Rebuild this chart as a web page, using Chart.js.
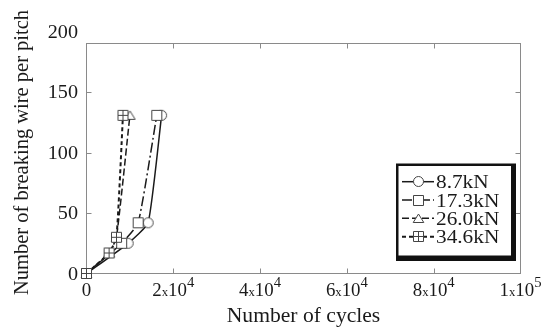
<!DOCTYPE html>
<html>
<head>
<meta charset="utf-8">
<script src="https://cdn.jsdelivr.net/npm/chart.js@4.4.1/dist/chart.umd.min.js"></script>
<style>
html, body { margin: 0; padding: 0; background: #fff; }
#wrap { width: 544px; height: 327px; }
</style>
</head>
<body>
<div id="wrap"><canvas id="c" width="544" height="327"></canvas></div>
<script>
// values: cycles vs breaking wires per pitch
const loads = ['8.7kN', '17.3kN', '26.0kN', '34.6kN'];
const cycles87 = [0, 9600, 14200, 17300];
const wires87 = [0, 25, 42, 131];
const cycles173 = [0, 8100, 11900, 16200];
const wires173 = [0, 25, 42, 131];
const cycles260 = [0, 5200, 6900, 10000];
const wires260 = [0, 17, 30, 131];
const cycles346 = [0, 5200, 6900, 8400];
const wires346 = [0, 17, 30, 131];

const xTicks = [0, 20000, 40000, 60000, 80000, 100000];
const xTickMant = ['0', '2', '4', '6', '8', '1'];
const xTickExp = ['', '4', '4', '4', '4', '5'];
const yTicks = [0, 50, 100, 150, 200];
const frameTopValue = 191;   // the box stops a bit under 200

const SERIF = '"Liberation Serif", "Times New Roman", serif';
const INK = '#1a1a1a';

function makeMarker(kind) {
    const cv = document.createElement('canvas');
    cv.width = 13;
    cv.height = 13;
    const g = cv.getContext('2d');
    g.fillStyle = '#fff';
    g.strokeStyle = '#444';
    g.lineWidth = 1;
    g.beginPath();
    if (kind === 'circle') {
        g.arc(6.5, 6.5, 5, 0, Math.PI * 2);
    } else if (kind === 'triangle') {
        g.moveTo(6.5, 2);
        g.lineTo(11.8, 10.5);
        g.lineTo(1.2, 10.5);
        g.closePath();
    } else {
        g.rect(1.5, 1.5, 10, 10);
    }
    g.fill();
    g.stroke();
    if (kind === 'cross') {
        g.beginPath();
        g.moveTo(6.5, 1.5); g.lineTo(6.5, 11.5);
        g.moveTo(1.5, 6.5); g.lineTo(11.5, 6.5);
        g.stroke();
    }
    return cv;
}

const markers = [makeMarker('circle'), makeMarker('square'), makeMarker('triangle'), makeMarker('cross')];
const dashes = [[], [10, 3, 2, 3], [7, 3], [4, 3]];
const widths = [1.5, 1.5, 1.5, 2];

function toPoints(xs, ys) {
    return xs.map((x, i) => ({ x: x, y: ys[i] }));
}

const seriesX = [cycles87, cycles173, cycles260, cycles346];
const seriesY = [wires87, wires173, wires260, wires346];

const datasets = loads.map((label, i) => ({
    label: label,
    data: toPoints(seriesX[i], seriesY[i]),
    borderColor: INK,
    borderWidth: widths[i],
    borderDash: dashes[i],
    pointStyle: markers[i],
    pointRadius: 5,
    tension: 0.15,
    clip: false,
    order: 3 - i
}));

// text with a little horizontal stretch, like the scanned figure
function sText(ctx, str, x, y, size, sx, align) {
    ctx.save();
    ctx.font = size + 'px ' + SERIF;
    ctx.fillStyle = INK;
    ctx.textBaseline = 'alphabetic';
    ctx.textAlign = align || 'left';
    ctx.translate(x, y);
    ctx.scale(sx, 1);
    ctx.fillText(str, 0, 0);
    ctx.restore();
}

function textWidth(ctx, str, size, sx) {
    ctx.save();
    ctx.font = size + 'px ' + SERIF;
    const w = ctx.measureText(str).width * sx;
    ctx.restore();
    return w;
}

const framePlugin = {
    id: 'frame',
    beforeDatasetsDraw(chart) {
        const { ctx, chartArea: a, scales: { x, y } } = chart;
        const top = Math.round(y.getPixelForValue(frameTopValue)) + 0.5;
        ctx.save();
        ctx.strokeStyle = '#8a8a8a';
        ctx.lineWidth = 1;
        ctx.strokeRect(a.left, top, a.right - a.left, a.bottom - top);
        ctx.beginPath();
        xTicks.forEach(v => {
            if (v <= 0 || v >= 100000) return;
            const px = Math.round(x.getPixelForValue(v)) + 0.5;
            ctx.moveTo(px, a.bottom); ctx.lineTo(px, a.bottom - 5);
            ctx.moveTo(px, top); ctx.lineTo(px, top + 5);
        });
        yTicks.forEach(v => {
            if (v <= 0 || v >= frameTopValue) return;
            const py = Math.round(y.getPixelForValue(v)) + 0.5;
            ctx.moveTo(a.left, py); ctx.lineTo(a.left + 5, py);
            ctx.moveTo(a.right, py); ctx.lineTo(a.right - 5, py);
        });
        ctx.stroke();
        ctx.restore();
    },
    afterDraw(chart) {
        const { ctx, chartArea: a, scales: { x, y } } = chart;

        // y tick labels
        yTicks.forEach(v => {
            sText(ctx, String(v), 78, y.getPixelForValue(v) + 6, 18, 1.12, 'right');
        });

        // x tick labels, m x 10^e
        xTicks.forEach((v, i) => {
            const cx = x.getPixelForValue(v);
            const m = xTickMant[i];
            const e = xTickExp[i];
            if (!e) {
                sText(ctx, m, cx, 296, 18, 1.05, 'center');
                return;
            }
            const wm = textWidth(ctx, m, 18, 1.05);
            const wx = textWidth(ctx, 'x', 12, 1.05);
            const wt = textWidth(ctx, '10', 18, 1.05);
            const we = textWidth(ctx, e, 14, 1.05);
            let px = cx - (wm + wx + wt + we) / 2;
            sText(ctx, m, px, 296, 18, 1.05); px += wm;
            sText(ctx, 'x', px, 296, 12, 1.05); px += wx;
            sText(ctx, '10', px, 296, 18, 1.05); px += wt;
            sText(ctx, e, px, 286.5, 14, 1.05);
        });

        // axis titles
        sText(ctx, 'Number of cycles', (a.left + a.right) / 2, 322, 20, 1.08, 'center');
        ctx.save();
        ctx.translate(28, 152.5);
        ctx.rotate(-Math.PI / 2);
        sText(ctx, 'Number of breaking wire per pitch', 0, 0, 20.5, 1, 'center');
        ctx.restore();

        // legend box with drop shadow
        ctx.save();
        ctx.fillStyle = '#111';
        ctx.fillRect(396, 163.5, 120, 97.5);
        ctx.fillStyle = '#fff';
        ctx.fillRect(398.5, 166, 112.5, 89.5);
        const rows = [181.7, 200, 218.3, 236.7];
        loads.forEach((label, i) => {
            const ry = rows[i];
            ctx.strokeStyle = INK;
            ctx.lineWidth = widths[i];
            ctx.setLineDash(dashes[i]);
            ctx.beginPath();
            ctx.moveTo(402, ry);
            ctx.lineTo(434, ry);
            ctx.stroke();
            ctx.setLineDash([]);
            const mk = markers[i];
            ctx.drawImage(mk, Math.round(418 - mk.width / 2), Math.round(ry - mk.height / 2));
            sText(ctx, label, 436, ry + 6.5, 19, 1.12, 'left');
        });
        ctx.restore();
    }
};

new Chart(document.getElementById('c'), {
    type: 'line',
    data: { datasets: datasets },
    options: {
        responsive: false,
        animation: false,
        devicePixelRatio: 1,
        layout: { padding: { left: 86.5, right: 23.5, top: 32, bottom: 53.5 } },
        scales: {
            x: { type: 'linear', min: 0, max: 100000, display: false },
            y: { type: 'linear', min: 0, max: 200, display: false }
        },
        plugins: {
            legend: { display: false },
            tooltip: { enabled: false }
        }
    },
    plugins: [framePlugin]
});
</script>
</body>
</html>
